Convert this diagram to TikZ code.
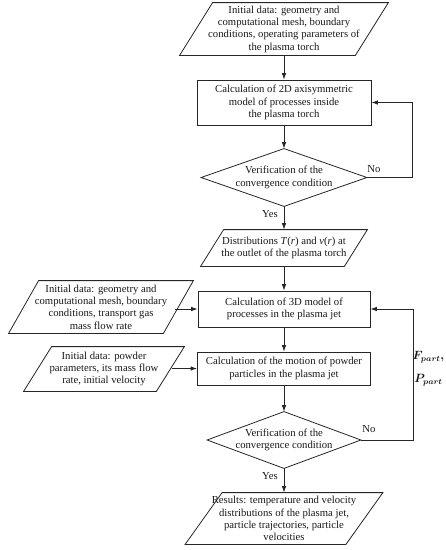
\documentclass[tikz,border=0pt]{standalone}
\usepackage{fontspec}
\setmainfont{Liberation Serif}
\usetikzlibrary{arrows.meta,calc}
\begin{document}
\begin{tikzpicture}[x=1pt,y=-1pt,
  line width=0.8pt, draw=black!85,
  every node/.style={font=\fontsize{10.7}{12.3}\selectfont, text=black!90},
  txt/.style={inner sep=0pt, align=center},
  arr/.style={-{Latex[length=6.5pt,width=4.5pt]}},
  lbl/.style={inner sep=0pt},
  sym/.style={inner sep=0pt, font=\fontsize{11.5}{14}\selectfont\boldmath},
]
\useasboundingbox (0,0) rectangle (446,550);

% parallelogram text nodes
\node[txt, minimum width=208, minimum height=52] (p1) at (284,29)
  {Initial data: geometry and\\computational mesh, boundary\\conditions, operating parameters of\\the plasma torch};
\node[txt, minimum width=166, minimum height=36] (p2) at (284,248)
  {Distributions \textit{T}(\textit{r}) and \textit{v}(\textit{r}) at\\the outlet of the plasma torch};
\node[txt, minimum width=184, minimum height=52] (L1) at (101,307)
  {Initial data: geometry and\\computational mesh, boundary\\conditions, transport gas\\mass flow rate};
\node[txt, minimum width=160, minimum height=44] (L2) at (104,369)
  {Initial data: powder\\parameters, its mass flow\\rate, initial velocity};
\node[txt, minimum width=197, minimum height=51] (R) at (284,518.5)
  {Results: temperature and velocity\\distributions of the plasma jet,\\particle trajectories, particle\\velocities};

\draw ($(p1.north west)+(33,0)$) -- (p1.north east) -- ($(p1.south east)-(33,0)$) -- (p1.south west) -- cycle;
\draw ($(p2.north west)+(23,0)$) -- (p2.north east) -- ($(p2.south east)-(23,0)$) -- (p2.south west) -- cycle;
\draw ($(L1.north west)+(30,0)$) -- (L1.north east) -- ($(L1.south east)-(30,0)$) -- (L1.south west) -- cycle;
\draw ($(L2.north west)+(28,0)$) -- (L2.north east) -- ($(L2.south east)-(28,0)$) -- (L2.south west) -- cycle;
\draw ($(R.north west)+(37,0)$) -- (R.north east) -- ($(R.south east)-(37,0)$) -- (R.south west) -- cycle;

% process boxes
\node[txt, draw, minimum width=174, minimum height=45] (b2) at (284,102.5)
  {Calculation of 2D axisymmetric\\model of processes inside\\the plasma torch};
\node[txt, draw, minimum width=172, minimum height=36] (b3) at (284,309)
  {Calculation of 3D model of\\processes in the plasma jet};
\node[txt, draw, minimum width=173, minimum height=33] (b4) at (284,368.5)
  {Calculation of the motion of powder\\particles in the plasma jet};

% decisions
\node[txt, minimum width=165, minimum height=57] (d1) at (284,177.5)
  {Verification of the\\convergence condition};
\node[txt, minimum width=153, minimum height=56] (d2) at (284,440)
  {Verification of the\\convergence condition};
\draw (d1.north) -- (d1.east) -- (d1.south) -- (d1.west) -- cycle;
\draw (d2.north) -- (d2.east) -- (d2.south) -- (d2.west) -- cycle;

% connector ends on slanted edges
\coordinate (L1e) at (175,309);
\coordinate (L2e) at (172,368.5);

% connectors
\draw[arr] (p1.south) -- (b2.north);
\draw[arr] (b2.south) -- (d1.north);
\draw[arr] (d1.south) -- (p2.north);
\draw[arr] (p2.south) -- (b3.north);
\draw[arr] (b3.south) -- (b4.north);
\draw[arr] (b4.south) -- (d2.north);
\draw[arr] (d2.south) -- (R.north);
\draw[arr] (d1.east) -- ++(45.5,0) |- (b2.east);
\draw[arr] (d2.east) -- ++(52,0) |- (b3.east);
\draw[arr] (L1e) -- (b3.west);
\draw[arr] (L2e) -- (b4.west);

% labels
\node[lbl] (no1) at (374,169) {No};
\node[lbl] (yes1) at (270,214) {Yes};
\node[lbl] (no2) at (369,429) {No};
\node[lbl] (yes2) at (270,476) {Yes};
\node[sym] (fp) at (428.5,357) {$F_{part},$};
\node[sym] (pp) at (428.5,380) {$P_{part}$};
\end{tikzpicture}
\end{document}
